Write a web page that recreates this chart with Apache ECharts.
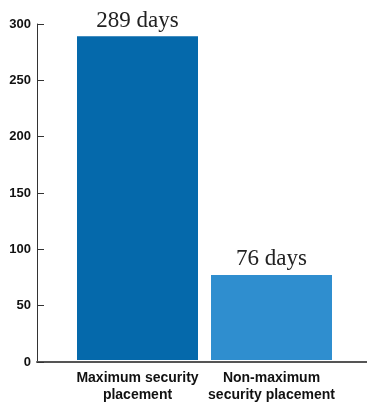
<!DOCTYPE html>
<html><head><meta charset="utf-8">
<script src="https://cdn.jsdelivr.net/npm/echarts@6/dist/echarts.min.js"></script>
<style>html,body{margin:0;padding:0;background:#fff}#c{width:367px;height:404px}</style>
</head><body><div id="c"></div>
<script>
const categories = ['Maximum security\nplacement', 'Non-maximum\nsecurity placement'];
const values = [289, 76];
const valueLabels = ['289 days', '76 days'];
const barColors = ['#0569AB', '#2F8ECF'];
const yTicks = [0, 50, 100, 150, 200, 250, 300];

const chart = echarts.init(document.getElementById('c'), null, {renderer: 'canvas'});
const sans = "'Liberation Sans', Arial, sans-serif";
chart.setOption({
  animation: false,
  grid: [
    {left: 70.5, width: 268, top: 24, bottom: 42},
    {left: 37, right: 0, top: 24, bottom: 42}
  ],
  xAxis: [
    {type: 'category', gridIndex: 0, data: categories,
     axisLine: {show: false}, axisTick: {show: false},
     axisLabel: {fontFamily: sans, fontWeight: 'bold', fontSize: 14, lineHeight: 17, color: '#111', margin: 10, interval: 0}},
    {type: 'value', gridIndex: 1, min: 0, max: 1,
     axisLine: {show: true, lineStyle: {color: '#555', width: 2}}, axisTick: {show: false},
     axisLabel: {show: false}, splitLine: {show: false}}
  ],
  yAxis: [
    {type: 'value', gridIndex: 0, min: yTicks[0], max: yTicks[yTicks.length - 1], interval: 50,
     axisLine: {show: false}, axisTick: {show: false}, axisLabel: {show: false}, splitLine: {show: false}},
    {type: 'value', gridIndex: 1, min: yTicks[0], max: yTicks[yTicks.length - 1], interval: 50,
     axisLine: {show: true, lineStyle: {color: '#333', width: 1}},
     axisTick: {show: true, inside: true, length: 7, lineStyle: {color: '#333'}},
     axisLabel: {fontFamily: sans, fontWeight: 'bold', fontSize: 13, color: '#111', margin: 6},
     splitLine: {show: false}}
  ],
  series: [{
    type: 'bar', xAxisIndex: 0, yAxisIndex: 0, barWidth: 121,
    data: values.map((v, i) => ({value: v, itemStyle: {color: barColors[i]}})),
    label: {show: true, position: 'top', distance: 4,
      fontFamily: "'Liberation Serif', 'Times New Roman', serif", fontSize: 23, color: '#222',
      formatter: p => valueLabels[p.dataIndex]}
  }]
});
</script></body></html>
